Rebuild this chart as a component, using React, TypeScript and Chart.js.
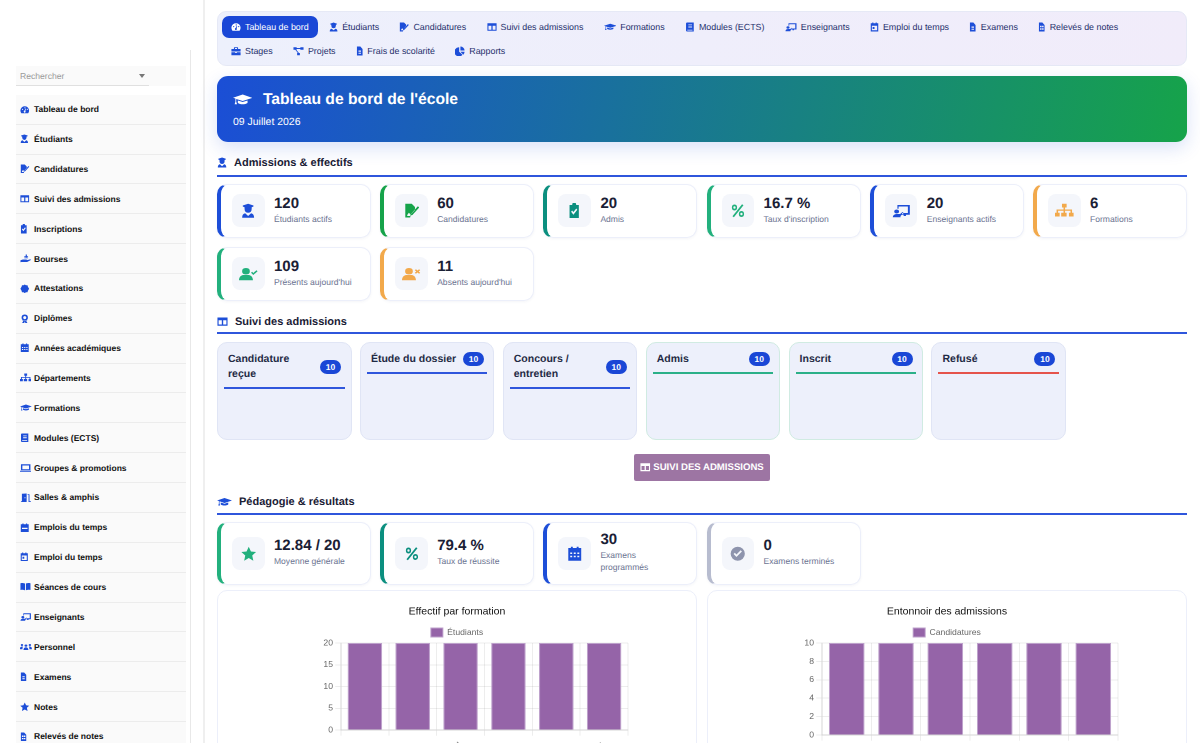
import React, { useEffect, useRef } from "react";
import { Chart, registerables } from "chart.js";

Chart.register(...registerables);

const FONT = '"Liberation Sans", Arial, sans-serif';
const BLUE = "#1d4ed8";
const LINE_BLUE = "#2f56dc";
const GREEN = "#16a34a";
const TEAL = "#0b8f7f";
const EMERALD = "#22b07d";
const ORANGE = "#f2a94b";
const SLATE = "#8e94ad";

const formationLabels = ["Licence Informatique", "Licence Gestion", "Master Génie Civil", "Master Finance", "BTS Commerce", "BTS Comptabilité"];
const formationValues = [20, 20, 20, 20, 20, 20];
const funnelLabels = ["Candidature reçue", "Étude du dossier", "Concours / entretien", "Admis", "Inscrit", "Refusé"];
const funnelValues = [10, 10, 10, 10, 10, 10];

const navRowOne = [
  ["gauge", "Tableau de bord"], ["student", "Étudiants"], ["edit", "Candidatures"], ["columns", "Suivi des admissions"],
  ["grad", "Formations"], ["book", "Modules (ECTS)"], ["teacher", "Enseignants"], ["calday", "Emploi du temps"],
  ["file", "Examens"], ["report", "Relevés de notes"],
];
const navRowTwo = [["briefcase", "Stages"], ["nodes", "Projets"], ["file", "Frais de scolarité"], ["pie", "Rapports"]];
const sideItems = [
  ["gauge", "Tableau de bord"], ["student", "Étudiants"], ["edit", "Candidatures"], ["columns", "Suivi des admissions"],
  ["clip", "Inscriptions"], ["hand", "Bourses"], ["badge", "Attestations"], ["award", "Diplômes"],
  ["calendar", "Années académiques"], ["org", "Départements"], ["grad", "Formations"], ["book", "Modules (ECTS)"],
  ["laptop", "Groupes & promotions"], ["door", "Salles & amphis"], ["calweek", "Emplois du temps"], ["calday", "Emploi du temps"],
  ["bookopen", "Séances de cours"], ["teacher", "Enseignants"], ["people", "Personnel"], ["file", "Examens"],
  ["star", "Notes"], ["report", "Relevés de notes"],
];
const admissionStats = [
  ["120", "Étudiants actifs", "student", BLUE, BLUE], ["60", "Candidatures", "edit", GREEN, GREEN], ["20", "Admis", "clip", TEAL, TEAL],
  ["16.7 %", "Taux d'inscription", "percent", EMERALD, EMERALD], ["20", "Enseignants actifs", "teacher", BLUE, BLUE], ["6", "Formations", "org", ORANGE, ORANGE],
  ["109", "Présents aujourd'hui", "usercheck", EMERALD, EMERALD], ["11", "Absents aujourd'hui", "userx", ORANGE, ORANGE],
];
const pedagogyStats = [
  ["12.84 / 20", "Moyenne générale", "star", EMERALD, EMERALD], ["79.4 %", "Taux de réussite", "percent", TEAL, TEAL],
  ["30", "Examens programmés", "calendar", BLUE, BLUE], ["0", "Examens terminés", "check", "#b7bccf", SLATE],
];
const kanban = [
  ["Candidature reçue", "10", LINE_BLUE, "#e0e5f5"], ["Étude du dossier", "10", LINE_BLUE, "#e0e5f5"], ["Concours / entretien", "10", LINE_BLUE, "#e0e5f5"],
  ["Admis", "10", "#2bb088", "#d0ebe2"], ["Inscrit", "10", "#2bb088", "#d0ebe2"], ["Refusé", "10", "#e5534b", "#e0e5f5"],
];

const iconAspect: Record<string, number> = {
  grad: 1.25, teacher: 1.2, org: 1.2, laptop: 1.2, hand: 1.2, nodes: 1.1, people: 1.25, door: 1.2, bookopen: 1.15, usercheck: 1.2, userx: 1.2,
  file: 0.75, report: 0.75, clip: 0.8, percent: 0.9, calday: 0.9, student: 0.92,
};

const iconShapes: Record<string, React.ReactNode> = {
  gauge: <path fillRule="evenodd" d="M12 3a11 11 0 0 0-11 11c0 2.600.9 5 2.400 7h17.200a11 11 0 0 0 2.400-7A11 11 0 0 0 12 3zM11 7a1.500 1.500 0 1 1 3 0 1.500 1.500 0 0 1-3 0zM5 11a1.500 1.500 0 1 1 3 0 1.500 1.500 0 0 1-3 0zM17 11a1.500 1.500 0 1 1 3 0 1.500 1.500 0 0 1-3 0zM11 14.500L14 9l1 .5-1.600 5.500a2.400 2.400 0 1 1-2.400-.5z" />,
  student: <path d="M12 1L3 4v1.500l3 1V9a6 6 0 0 0 12 0V6.500l3-1V4zM7 16l5 4 5-4c3 .5 5 3 5 6v1H2v-1c0-3 2-5.500 5-6z" />,
  edit: <path fillRule="evenodd" d="M2 1h10l5 5v5l-6 6-1.500 5.500H2zM21.500 5l2 2L13 18.500l-3 1 1-3zM5 18.500l2.500-3.500 2 2 .5-.5-.5 3.500H5z" />,
  columns: <path fillRule="evenodd" d="M1 3h22v18H1zM3.500 9v9.500h7V9zM13.500 9v9.500h7V9z" />,
  grad: <path d="M12 4L0 9l3 1.200V15l-1 4h3l-1-4v-4.300L12 14l12-5zM6 13v4c3 2.500 9 2.500 12 0v-4l-6 2.500z" />,
  book: <path fillRule="evenodd" d="M5 1h16v22H5a2.500 2.500 0 0 1-2.500-2.500v-17A2.500 2.500 0 0 1 5 1zM8 6v2h9V6zM8 11v2h9v-2zM5.500 18.500v2H18v-2z" />,
  teacher: <path fillRule="evenodd" d="M7 3h16v15H13v-2.500h7.500V5.500h-12V9H7zM6 10a3.200 3.200 0 1 1 0 6.400A3.200 3.200 0 0 1 6 10zM1 22c0-3 2-5 5-5h4.500l3-3 1.500 1.500-4 4.500H11v2zM15 18h3v2h-3z" />,
  calday: <path fillRule="evenodd" d="M6 1h3v2h6V1h3v2h4v20H2V3h4zM5 9v11h14V9zM7 12h5v5H7z" />,
  calendar: <path fillRule="evenodd" d="M6 1h3v2h6V1h3v2h4v20H2V3h4zM5 10v2.500h3V10zM10.500 10v2.500h3V10zM16 10v2.500h3V10zM5 15v2.500h3V15zM10.500 15v2.500h3V15zM16 15v2.500h3V15z" />,
  calweek: <path fillRule="evenodd" d="M6 1h3v2h6V1h3v2h4v20H2V3h4zM5 12v3h14v-3z" />,
  file: <path fillRule="evenodd" d="M3 1h11l7 6v16H3zM8 11v2.500h8V11zM8 16v2.500h8V16z" />,
  report: <path fillRule="evenodd" d="M3 1h11l7 6v16H3zM6.500 9v3.500h5V9zM13 9v3.500h5V9zM6.500 15v3.500h5V15zM13 15v3.500h5V15z" />,
  briefcase: <path fillRule="evenodd" d="M8 3h8l1 1v3h6v6H1V7h6V4zM9.500 5v2h5V5zM1 15h9v2h4v-2h9v7H1z" />,
  nodes: <path d="M1 3h7v6H1zM16 3h7v6h-7zM9 17h6v5H9zM8 5h8v2H8zM5 9h2l6 8h-2.500z" />,
  pie: <path d="M10 3v11l8 7A11 11 0 1 1 10 3zM13 1a10 10 0 0 1 10 10H13zM13 14h10a10 10 0 0 1-3 7z" />,
  clip: <path fillRule="evenodd" d="M9 0h6l1 3h5v21H3V3h5zM18 10.500L16 8.500l-5.500 5.500L8 11.500l-2 2 4.500 4.500z" />,
  hand: <path d="M12 1h2.500v7H12zM9 5h8v2H9zM9 9h8v2H9zM1 16l5-2h7l3 1 6-2 1 2-8 5H3l-2 1z" />,
  badge: <path d="M12 1l3 2h4l1 4 3 5-3 5-1 4h-4l-3 2-3-2H5l-1-4-3-5 3-5 1-4h4z" />,
  award: <path fillRule="evenodd" d="M12 1a8 8 0 1 1 0 16 8 8 0 0 1 0-16zM12 5a4 4 0 1 0 0 8 4 4 0 0 0 0-8zM5 16l3 2-3 5h5l2-3 2 3h5l-3-5 3-2-7 2z" />,
  org: <path d="M9 1h6v6h-2v3h9v5h2v6h-6v-6h2v-3h-7v3h2v6H8v-6h3v-3H4v3h2v6H0v-6h2v-5h9V7H9z" />,
  laptop: <path fillRule="evenodd" d="M2 3h20v15H2zM5 6v9.500h14V6zM0 19.500h24V22H0z" />,
  door: <path fillRule="evenodd" d="M4 2l10-1v22H2v-2h2zM9.500 11v2.500h2V11zM16 3h4v18h3v2h-5V5h-2z" />,
  bookopen: <path d="M1 3c4-1 8-1 10 1v17c-2-2-6-2-10-1zM23 3c-4-1-8-1-10 1v17c2-2 6-2 10-1z" />,
  people: <path d="M12 6a3 3 0 1 1 0 6 3 3 0 0 1 0-6zM4 5a2.500 2.500 0 1 1 0 5 2.500 2.500 0 0 1 0-5zM20 5a2.500 2.500 0 1 1 0 5 2.500 2.500 0 0 1 0-5zM7 20c0-4 2-7 5-7s5 3 5 7zM0 17c0-3 1-5.500 4-5.500 1 0 1.500.3 2 .7C5 14 5 16 5 18H0zM24 17c0-3-1-5.500-4-5.500-1 0-1.500.3-2 .7 1 1.800 1 3.800 1 5.800h5z" />,
  star: <path d="M12 1l3.400 7.400 8 .9-6 5.400 1.700 8L12 18.700 4.900 22.700l1.700-8-6-5.400 8-.9z" />,
  usercheck: <path d="M9 3a5 5 0 1 1 0 10A5 5 0 0 1 9 3zM0 22c0-5 3-8 6.500-8h5c3.500 0 6.500 3 6.500 8zM17 9l-1.500 1.500L18.500 14 24 8l-1.500-1.500-4 4.500z" />,
  userx: <path d="M9 3a5 5 0 1 1 0 10A5 5 0 0 1 9 3zM0 22c0-5 3-8 6.500-8h5c3.500 0 6.500 3 6.500 8zM16.500 6.500L18 5l2 2 2-2 1.500 1.500-2 2 2 2L22 12l-2-2-2 2-1.500-1.500 2-2z" />,
  check: <path fillRule="evenodd" d="M12 1a11 11 0 1 1 0 22 11 11 0 0 1 0-22zM18.500 8.500L16.500 6.500l-6.500 6.500-2.500-2.500-2 2 4.500 4.500z" />,
  percent: <path fillRule="evenodd" d="M19 2l2.500 1.500L5 22l-2.500-1.500zM6 2.500a4.500 4.500 0 1 1 0 9 4.500 4.500 0 0 1 0-9zM6 5a2 2 0 1 0 0 4 2 2 0 0 0 0-4zM18 12.500a4.500 4.500 0 1 1 0 9 4.500 4.500 0 0 1 0-9zM18 15a2 2 0 1 0 0 4 2 2 0 0 0 0-4z" />,
};

function Icon({ name, size, color }: { name: string; size: number; color: string }) {
  return (
    <svg viewBox="0 0 24 24" preserveAspectRatio="none" width={size * (iconAspect[name] ?? 1)} height={size} fill={color} style={{ flex: "none", display: "block" }}>
      {iconShapes[name]}
    </svg>
  );
}

const tightLegend = {
  id: "tightLegend",
  beforeLayout(chart: any) {
    const box = chart.legend;
    if (box && !box.tightened) {
      box.tightened = true;
      const fit = box.fit.bind(box);
      box.fit = () => { fit(); box.height -= 4; };
    }
  },
};

function BarChart({ labels, values, legend, title, axisWidth, axisHeight }: { labels: string[]; values: number[]; legend: string; title: string; axisWidth: number; axisHeight: number }) {
  const ref = useRef<HTMLCanvasElement | null>(null);
  useEffect(() => {
    const chartFont = { family: FONT, size: 8.64 };
    const chart = new Chart(ref.current as HTMLCanvasElement, {
      type: "bar",
      plugins: [tightLegend],
      data: {
        labels,
        datasets: [{ label: legend, data: values, backgroundColor: "#9564a8", borderColor: "#bda0cb", borderWidth: 1 }],
      },
      options: {
        responsive: false,
        animation: false,
        devicePixelRatio: 2,
        layout: { padding: { left: 69, right: 69, top: 0, bottom: 0 } },
        plugins: {
          title: { display: true, text: title, color: "#111", font: { family: FONT, size: 10.5, weight: "normal" }, padding: { top: 15.5, bottom: 8.9 } },
          legend: { labels: { boxWidth: 12, boxHeight: 9, color: "#666", font: chartFont, padding: 1 } },
          tooltip: { enabled: false },
        },
        scales: {
          x: {
            grid: { color: "rgba(0,0,0,0.07)", tickLength: 5.8 },
            border: { color: "rgba(0,0,0,0.1)" },
            ticks: { color: "#666", font: chartFont, autoSkip: false, minRotation: 50, maxRotation: 50, padding: 4.5 },
            afterFit(s: any) { s.paddingLeft = 0; s.paddingRight = 0; s.height = axisHeight; },
          },
          y: {
            min: 0,
            max: values[0],
            grid: { color: "rgba(0,0,0,0.07)", tickLength: 5.8 },
            border: { color: "rgba(0,0,0,0.1)" },
            ticks: { color: "#666", font: chartFont, stepSize: values[0] === 20 ? 5 : 2, padding: 2.2 },
            afterFit(s: any) { s.paddingTop = 0; s.paddingBottom = 0; s.width = axisWidth; },
          },
        },
      } as any,
    });
    return () => chart.destroy();
  }, []);
  return <canvas ref={ref} width={480} height={300} style={{ display: "block", width: 480, height: 300 }} />;
}

function StatCard({ value, label, icon, edge, tint }: { value: string; label: string; icon: string; edge: string; tint: string }) {
  return (
    <div style={{ boxSizing: "border-box", background: "#fff", border: "1px solid #eceffa", borderLeft: `4px solid ${edge}`, borderRadius: 10, display: "flex", alignItems: "center", paddingLeft: 11, boxShadow: "0 1px 3px rgba(30,50,120,0.05)" }}>
      <div style={{ width: 32.6, height: 32.6, flex: "none", borderRadius: 8, background: "#f4f6fb", display: "flex", alignItems: "center", justifyContent: "center" }}>
        <Icon name={icon} size={15.5} color={tint} />
      </div>
      <div style={{ marginLeft: 9.4, width: 80, transform: "translateY(-1px)" }}>
        <div style={{ fontSize: 15, fontWeight: 700, color: "#1a2035", lineHeight: "18px" }}>{value}</div>
        <div style={{ fontSize: 8.55, color: "#6b7391", lineHeight: "12px" }}>{label}</div>
      </div>
    </div>
  );
}

function SectionHead({ icon, iconSize, text, top, lift }: { icon: string; iconSize: number; text: string; top: number; lift: number }) {
  return (
    <div style={{ position: "absolute", left: 0, right: 0, top, height: 24, paddingBottom: Math.max(lift, 0), paddingTop: Math.max(-lift, 0), borderBottom: `2px solid ${LINE_BLUE}`, display: "flex", alignItems: "center", gap: 7, boxSizing: "border-box" }}>
      <Icon name={icon} size={iconSize} color={BLUE} />
      <span style={{ fontSize: 11, fontWeight: 700, color: "#1a2035" }}>{text}</span>
    </div>
  );
}

function NavRow({ items, top }: { items: string[][]; top: number }) {
  return (
    <div style={{ position: "absolute", left: 5, top, height: 22, display: "flex", gap: 2.3 }}>
      {items.map(([icon, text]) => {
        const active = text === "Tableau de bord";
        return (
          <div key={text} style={{ display: "flex", alignItems: "center", gap: 4, padding: "0 9px", borderRadius: 7, background: active ? "#1a47d6" : "transparent", color: active ? "#fff" : "#252f6b", fontSize: 8.88 }}>
            <Icon name={icon} size={10} color={active ? "#fff" : BLUE} />
            <span>{text}</span>
          </div>
        );
      })}
    </div>
  );
}

export default function App() {
  return (
    <div style={{ position: "fixed", left: 0, top: 0, width: 1200, height: 743, overflow: "hidden", background: "#fff", fontFamily: FONT, textRendering: "geometricPrecision" }}>
      {/* sidebar */}
      <div style={{ position: "absolute", left: 190, top: 50, width: 1, bottom: 0, background: "#e8e8e8" }} />
      <div style={{ position: "absolute", left: 203, top: 0, width: 1.6, bottom: 0, background: "#efefef" }} />
      <div style={{ position: "absolute", left: 16, top: 66, width: 170, height: 20, background: "#fafafa" }} />
      <div style={{ position: "absolute", left: 16, top: 66, width: 133, height: 19.5, borderBottom: "1px solid #e0e0e0", color: "#999", fontSize: 8.6, lineHeight: "20px", paddingLeft: 4, boxSizing: "border-box" }}>
        Rechercher
        <span style={{ position: "absolute", right: 4, top: 7.5, width: 0, height: 0, borderLeft: "3px solid transparent", borderRight: "3px solid transparent", borderTop: "4px solid #777" }} />
      </div>
      <div style={{ position: "absolute", left: 16, top: 94.9, width: 170 }}>
        {sideItems.map(([icon, text]) => (
          <div key={text + icon} style={{ boxSizing: "border-box", height: 29.87, display: "flex", alignItems: "center", paddingLeft: 4, gap: 4, background: "#fafafa", borderBottom: "1px solid #ececec", color: "#111", fontSize: 8.5, fontWeight: 700 }}>
            <span style={{ width: 10, display: "flex" }}><Icon name={icon} size={9.5} color={BLUE} /></span>
            <span>{text}</span>
          </div>
        ))}
      </div>

      {/* main */}
      <div style={{ position: "absolute", left: 217, top: 0, width: 970, height: 743 }}>
        <div style={{ position: "absolute", left: 0, right: 0, top: 11, height: 55, boxSizing: "border-box", border: "1px solid #e6e9f6", borderRadius: 9, background: "linear-gradient(90deg,#edf0fc,#f1ecfa)" }} />
        <NavRow items={navRowOne} top={15.5} />
        <NavRow items={navRowTwo} top={39.5} />

        <div style={{ position: "absolute", left: 0, right: 0, top: 76, height: 66, borderRadius: 11, background: `linear-gradient(100deg,#1b4ed6,${GREEN})`, boxShadow: "0 6px 18px rgba(29,78,216,0.17)", color: "#fff" }}>
          <div style={{ position: "absolute", left: 16, top: 14, display: "flex", alignItems: "center", gap: 10.5 }}>
            <Icon name="grad" size={15.5} color="#fff" />
            <span style={{ fontSize: 15.7, fontWeight: 700, lineHeight: "19px" }}>Tableau de bord de l'école</span>
          </div>
          <div style={{ position: "absolute", left: 16, top: 40, fontSize: 10.47, lineHeight: "13px" }}>09 Juillet 2026</div>
        </div>

        <SectionHead icon="student" iconSize={11} text="Admissions & effectifs" top={153} lift={2.5} />
        <div style={{ position: "absolute", left: 0, right: 0, top: 183.6, display: "grid", gridTemplateColumns: "repeat(6,1fr)", gridAutoRows: 54, gap: 9.2 }}>
          {admissionStats.map(([v, l, i, e, t]) => <StatCard key={l} value={v} label={l} icon={i} edge={e} tint={t} />)}
        </div>

        <SectionHead icon="columns" iconSize={11} text="Suivi des admissions" top={310} lift={-1.5} />
        <div style={{ position: "absolute", left: 0, top: 342, display: "flex", gap: 8.4 }}>
          {kanban.map(([name, count, line, edge]) => (
            <div key={name} style={{ boxSizing: "border-box", width: 134.5, height: 98, background: "#edf0fb", border: `1px solid ${edge}`, borderRadius: 10, paddingTop: 8.5 }}>
              <div style={{ margin: "0 6px", display: "flex", alignItems: "center", justifyContent: "space-between", padding: "0 3.5px 5px 4px", borderBottom: `2px solid ${line}` }}>
                <span style={{ width: 72, fontSize: 10.5, fontWeight: 700, color: "#1f2a44", lineHeight: "15px", whiteSpace: name.length > 16 ? "normal" : "nowrap" }}>{name}</span>
                <span style={{ width: 21, height: 14, borderRadius: 7, background: "#1a47d6", color: "#fff", fontSize: 8.5, fontWeight: 700, textAlign: "center", lineHeight: "14px" }}>{count}</span>
              </div>
            </div>
          ))}
        </div>

        <div style={{ position: "absolute", left: 417, top: 454, width: 136, height: 27, borderRadius: 2, background: "#9d75a3", color: "#fff", fontSize: 9.6, fontWeight: 700, display: "flex", alignItems: "center", justifyContent: "center", gap: 2.5 }}>
          <Icon name="columns" size={10.5} color="#fff" />
          <span>SUIVI DES ADMISSIONS</span>
        </div>

        <SectionHead icon="grad" iconSize={12} text="Pédagogie & résultats" top={490.5} lift={-0.5} />
        <div style={{ position: "absolute", left: 0, right: 0, top: 522, display: "grid", gridTemplateColumns: "repeat(6,1fr)", gridAutoRows: 62.5, gap: 9.2 }}>
          {pedagogyStats.map(([v, l, i, e, t]) => <StatCard key={l} value={v} label={l} icon={i} edge={e} tint={t} />)}
        </div>

        <div style={{ position: "absolute", left: 0, top: 590, width: 480, height: 300, border: "1px solid #eceffa", borderRadius: 10, boxSizing: "border-box" }} />
        <div style={{ position: "absolute", left: 0, top: 590 }}>
          <BarChart labels={formationLabels} values={formationValues} legend="Étudiants" title="Effectif par formation" axisWidth={55} axisHeight={160} />
        </div>
        <div style={{ position: "absolute", left: 490, top: 590, width: 480, height: 300, border: "1px solid #eceffa", borderRadius: 10, boxSizing: "border-box" }} />
        <div style={{ position: "absolute", left: 490, top: 590 }}>
          <BarChart labels={funnelLabels} values={funnelValues} legend="Candidatures" title="Entonnoir des admissions" axisWidth={46} axisHeight={155} />
        </div>
      </div>
    </div>
  );
}
